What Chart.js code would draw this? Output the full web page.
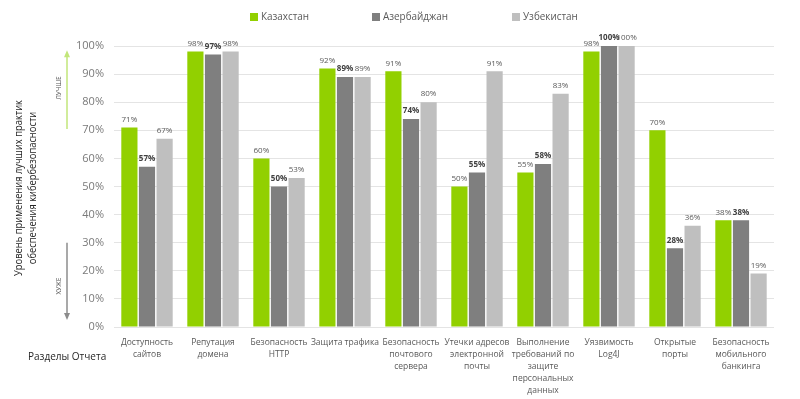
<!DOCTYPE html>
<html>
<head>
<meta charset="utf-8">
<script src="https://cdn.jsdelivr.net/npm/chart.js@4"></script>
<style>
  body { margin: 0; background: #fff; }
  #wrap { width: 800px; height: 399px; }
</style>
</head>
<body>
<div id="wrap"><canvas id="myChart"></canvas></div>
<script>
// Report sections along the x-axis
var sections = [
  ['Доступность', 'сайтов'],
  ['Репутация', 'домена'],
  ['Безопасность', 'HTTP'],
  'Защита трафика',
  ['Безопасность', 'почтового', 'сервера'],
  ['Утечки адресов', 'электронной', 'почты'],
  ['Выполнение', 'требований по', 'защите', 'персональных', 'данных'],
  ['Уязвимость', 'Log4J'],
  ['Открытые', 'порты'],
  ['Безопасность', 'мобильного', 'банкинга']
];
// Values per country, percent
var kazakhstan = [71, 98, 60, 92, 91, 50, 55, 98, 70, 38];
var azerbaijan = [57, 97, 50, 89, 74, 55, 58, 100, 28, 38];
var uzbekistan = [67, 98, 53, 89, 80, 91, 83, 100, 36, 19];
var yTicks = [0, 10, 20, 30, 40, 50, 60, 70, 80, 90, 100];

var FONT = "'Open Sans', 'Noto Sans', sans-serif";

// labels above bars, legend, titles and arrows
var extras = {
  id: 'extras',
  afterDatasetsDraw: function (chart) {
    var c = chart.ctx;
    c.save();
    c.textAlign = 'center';
    c.textBaseline = 'bottom';
    chart.data.datasets.forEach(function (ds, i) {
      chart.getDatasetMeta(i).data.forEach(function (bar, j) {
        c.font = (i === 1 ? 'bold ' : '') + '8px ' + FONT;
        c.fillStyle = i === 1 ? '#404040' : '#595959';
        c.fillText(ds.data[j] + '%', bar.x, bar.y - 4);
      });
    });
    c.restore();
  },
  afterDraw: function (chart) {
    var c = chart.ctx;
    var y = chart.scales.y;
    c.save();

    // legend (text a bit condensed like the original)
    var legendX = [250, 372, 512];
    c.font = '11.5px ' + FONT;
    c.textAlign = 'left';
    c.textBaseline = 'middle';
    chart.data.datasets.forEach(function (ds, i) {
      c.fillStyle = ds.backgroundColor;
      c.fillRect(legendX[i], 13, 8, 8);
      c.save();
      c.translate(legendX[i] + 11, 17);
      c.scale(0.86, 1);
      c.fillStyle = '#595959';
      c.fillText(ds.label, 0, 0);
      c.restore();
    });

    // y-axis title
    c.save();
    c.translate(26, 188);
    c.rotate(-Math.PI / 2);
    c.scale(0.85, 1);
    c.textAlign = 'center';
    c.fillStyle = '#262626';
    c.font = '11px ' + FONT;
    c.fillText('Уровень применения лучших практик', 0, -7);
    c.fillText('обеспечения кибербезопасности', 0, 7);
    c.restore();

    // x-axis title
    c.fillStyle = '#262626';
    c.font = '10px ' + FONT;
    c.textAlign = 'left';
    c.fillText('Разделы Отчета', 28, 357);

    // arrows
    function arrow(x, y0, y1, color) {
      var dir = y1 < y0 ? -1 : 1;
      c.strokeStyle = color;
      c.fillStyle = color;
      c.lineWidth = 1.5;
      c.beginPath();
      c.moveTo(x, y0);
      c.lineTo(x, y1 - dir * 5);
      c.stroke();
      c.beginPath();
      c.moveTo(x, y1);
      c.lineTo(x - 3, y1 - dir * 7);
      c.lineTo(x + 3, y1 - dir * 7);
      c.closePath();
      c.fill();
    }
    arrow(67, y.getPixelForValue(70.5), y.getPixelForValue(98.5), '#c2e67a');
    arrow(67, y.getPixelForValue(30), y.getPixelForValue(2.5), '#8c8c8c');

    c.font = '6.5px ' + FONT;
    c.fillStyle = '#595959';
    c.textAlign = 'center';
    c.textBaseline = 'middle';
    c.save();
    c.translate(59, 88);
    c.rotate(-Math.PI / 2);
    c.fillText('ЛУЧШЕ', 0, 0);
    c.restore();
    c.save();
    c.translate(59, 286);
    c.rotate(-Math.PI / 2);
    c.fillText('ХУЖЕ', 0, 0);
    c.restore();

    c.restore();
  }
};

var ctx = document.getElementById('myChart');
var myChart = new Chart(ctx, {
  type: 'bar',
  data: {
    labels: sections,
    datasets: [
      { label: 'Казахстан', data: kazakhstan, backgroundColor: '#92d000' },
      { label: 'Азербайджан', data: azerbaijan, backgroundColor: '#7f7f7f' },
      { label: 'Узбекистан', data: uzbekistan, backgroundColor: '#bfbfbf' }
    ]
  },
  options: {
    responsive: true,
    maintainAspectRatio: false,
    animation: false,
    categoryPercentage: 0.8,
    barPercentage: 0.92,
    layout: { padding: { top: 46, right: 26, left: 0, bottom: 0 } },
    plugins: {
      legend: { display: false },
      tooltip: { enabled: false }
    },
    scales: {
      x: {
        afterFit: function (s) { s.height = 72; },
        grid: { display: false },
        border: { display: false },
        ticks: {
          color: '#595959',
          font: { family: FONT, size: 8.5, lineHeight: 1.41 },
          maxRotation: 0,
          autoSkip: false,
          padding: 2
        }
      },
      y: {
        min: 0,
        max: 100,
        afterFit: function (s) { s.width = 114; },
        afterBuildTicks: function (s) {
          s.ticks = yTicks.map(function (v) { return { value: v }; });
        },
        grid: { color: '#e4e4e4', drawTicks: false },
        border: { display: false },
        ticks: {
          color: '#7a7a7a',
          font: { family: FONT, size: 11 },
          padding: 10,
          callback: function (v) { return v + '%'; }
        }
      }
    }
  },
  plugins: [extras]
});
</script>
</body>
</html>
